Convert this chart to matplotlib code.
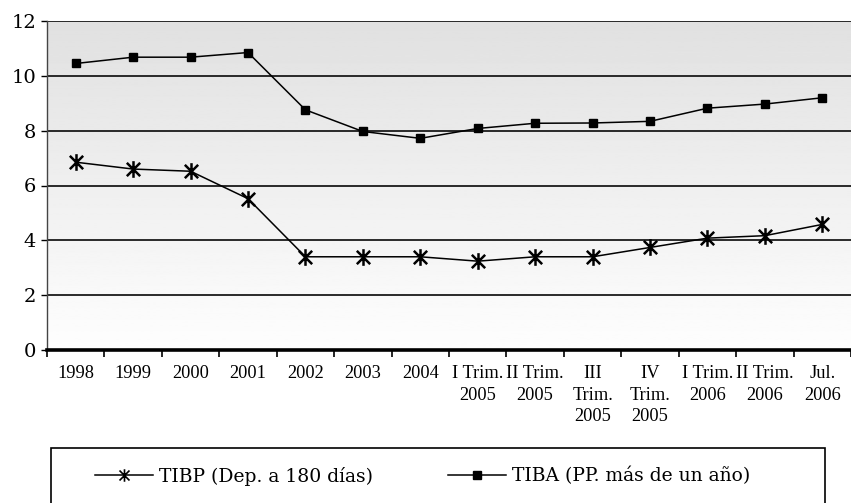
import numpy as np
import matplotlib.pyplot as plt
from matplotlib.path import Path
from matplotlib.patches import Rectangle

periodos = ["1998", "1999", "2000", "2001", "2002", "2003", "2004",
            "I Trim.\n2005", "II Trim.\n2005", "III\nTrim.\n2005", "IV\nTrim.\n2005",
            "I Trim.\n2006", "II Trim.\n2006", "Jul.\n2006"]
tibp = [6.85, 6.6, 6.52, 5.52, 3.4, 3.4, 3.4, 3.24, 3.4, 3.4, 3.74, 4.08, 4.17, 4.58]
tiba = [10.45, 10.68, 10.68, 10.85, 8.76, 7.97, 7.72, 8.08, 8.27, 8.28, 8.34, 8.82, 8.97, 9.2]

# asterisk marker: X with a vertical bar
asterisco = Path([(-1, -1), (1, 1), (-1, 1), (1, -1), (0, -1.25), (0, 1.25)],
                 [Path.MOVETO, Path.LINETO, Path.MOVETO, Path.LINETO, Path.MOVETO, Path.LINETO])

W, H = 851, 503
fig = plt.figure(figsize=(W / 100, H / 100), dpi=100)
ax = fig.add_axes([47 / W, 1 - 350 / H, 1 - 47 / W, (350 - 21) / H])

# vertical gray-to-white gradient behind the plot
grad = np.linspace(0.88, 0.995, 256).reshape(-1, 1)
ax.imshow(grad, extent=(0, 1, 0, 1), transform=ax.transAxes, cmap='gray',
          vmin=0, vmax=1, aspect='auto', origin='upper', zorder=0)

x = np.arange(len(periodos))
ax.plot(x, tibp, color='black', lw=1.1, marker=asterisco, markersize=12,
        markeredgewidth=1.8, label="TIBP (Dep. a 180 días)", zorder=3)
ax.plot(x, tiba, color='black', lw=1.1, marker='s', markersize=6,
        label="TIBA (PP. más de un año)", zorder=3)

ax.set_xlim(-0.5, len(periodos) - 0.5)
ax.set_ylim(0, 12)
ax.set_yticks(range(0, 13, 2))
ax.yaxis.grid(True, color='#1a1a1a', lw=1.3)
for gl in ax.get_ygridlines():
    gl.set_zorder(1)

ax.set_xticks(np.arange(-0.5, len(periodos), 1))
ax.set_xticklabels([])
ax.set_xticks(x, minor=True)
ax.set_xticklabels(periodos, minor=True, family='Liberation Serif', fontsize=13.2,
                   linespacing=1.33, va='top')
ax.tick_params(axis='x', which='major', direction='out', length=5, width=1.2)
ax.tick_params(axis='x', which='minor', length=0, pad=11)
ax.tick_params(axis='y', direction='out', length=4, width=1, pad=4)
for lbl in ax.get_yticklabels():
    lbl.set_family('DejaVu Serif')
    lbl.set_fontsize(14)

for s in ['top', 'right']:
    ax.spines[s].set_visible(False)
ax.spines['bottom'].set_linewidth(2.6)
ax.spines['left'].set_linewidth(1)
ax.spines['left'].set_color('#444444')

# legend box running off the bottom edge
fig.patches.append(Rectangle((51 / W, -0.05), (825 - 51) / W, 0.05 + 1 - 448 / H,
                             transform=fig.transFigure, fill=False,
                             edgecolor='black', lw=1.2, clip_on=False))
leg = fig.legend(loc='center left', bbox_to_anchor=(95 / W, 1 - 476 / H), ncol=2,
                 frameon=False, borderpad=0, borderaxespad=0,
                 handlelength=3.1, handletextpad=0.3, columnspacing=4.0,
                 prop={'family': 'DejaVu Serif', 'size': 13.5})
leg.legend_handles[0].set_markersize(9)
leg.legend_handles[0].set_markeredgewidth(1.2)

fig.savefig('out.png', dpi=100)
